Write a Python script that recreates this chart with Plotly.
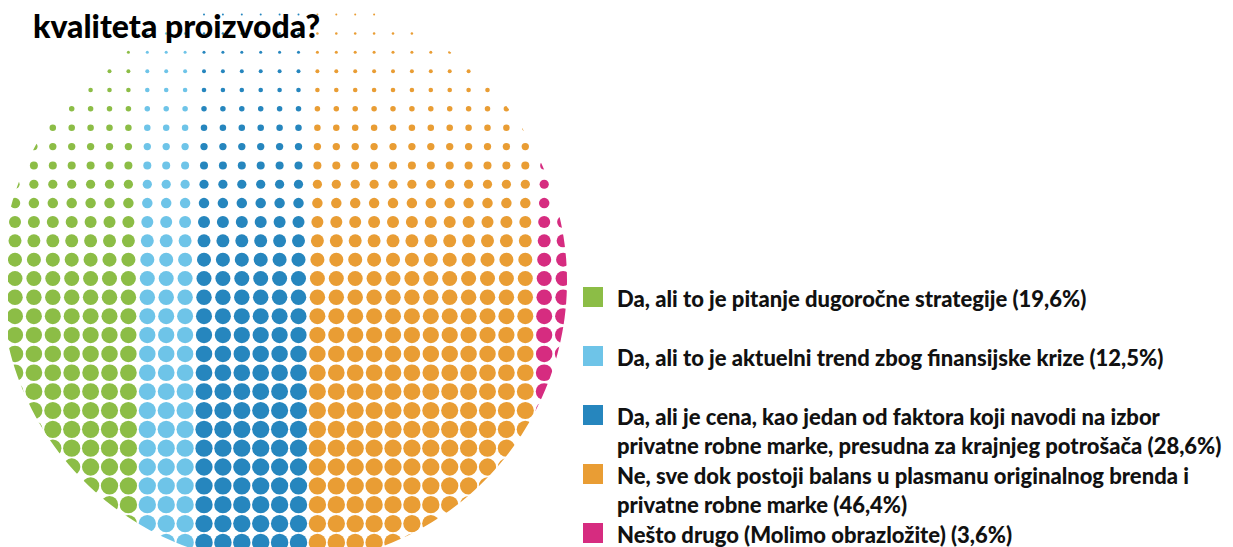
import numpy as np
import plotly.graph_objects as go

# ---------------- data ----------------
categories = [
    "Da, ali to je pitanje dugoročne strategije (19,6%)",
    "Da, ali to je aktuelni trend zbog finansijske krize (12,5%)",
    "Da, ali je cena, kao jedan od faktora koji navodi na izbor<br>privatne robne marke, presudna za krajnjeg potrošača (28,6%)",
    "Ne, sve dok postoji balans u plasmanu originalnog brenda i<br>privatne robne marke (46,4%)",
    "Nešto drugo (Molimo obrazložite) (3,6%)",
]
shares = [19.6, 12.5, 28.6, 46.4, 3.6]
colors = ["#8CBD46", "#6EC4E8", "#2686BE", "#E99D34", "#D62C80"]
title_text = ("Da li je rast udela robnih marki na domaćem tržištu pojačao ugled i garanciju<br>"
              "kvaliteta proizvoda?")

# ---------------- layout / style params (pixels) ----------------
PAGE_W, PAGE_H = 1233, 547
OFF = 8                                # page body margin of the html page
W, H = PAGE_W - OFF, PAGE_H - OFF
cx, cy, R = 284.0, 281.0, 283.0      # halftone disc
x0, y0, step_x, step_y = 15.0, 14.6, 18.9, 18.85
n_cols, n_rows = 30, 29
# dot diameter profile along the vertical (halftone fade toward the top)
prof_y = [14.6, 33, 52, 71, 90, 109, 127, 146, 165, 184, 203, 222, 241, 259, 278, 297, 315, 353, 420, 560]
prof_d = [2.0, 2.5, 3.0, 4.0, 4.6, 5.5, 6.5, 7.3, 8.0, 9.2, 10.5, 12.0, 13.0, 14.0, 15.0, 15.5, 16.0, 16.5, 17.2, 17.4]

# column -> category, by the share of the disc area left of each column
norm = np.array(shares) / np.sum(shares)
cum = np.cumsum(norm)

def area_left(x):
    t = np.clip((x - cx) / R, -1, 1)
    return 0.5 + (t * np.sqrt(1 - t * t) + np.arcsin(t)) / np.pi

fig = go.Figure()
pts = {i: ([], [], []) for i in range(len(shares))}
for k in range(n_cols):
    x = x0 + step_x * k
    cat = min(int(np.searchsorted(cum, area_left(x))), len(shares) - 1)
    for j in range(n_rows):
        y = y0 + step_y * j
        d = float(np.interp(y, prof_y, prof_d))
        if np.hypot(x - cx, y - cy) <= R + d / 2:
            pts[cat][0].append(x)
            pts[cat][1].append(y)
            pts[cat][2].append(d)

for i, name in enumerate(categories):
    xs, ys, ds = pts[i]
    fig.add_trace(go.Scatter(
        x=xs, y=ys, mode="markers", name=name, showlegend=False, hoverinfo="skip",
        marker=dict(size=ds, color=colors[i], opacity=1, line=dict(width=0)),
    ))

# white mask outside the disc so edge dots are clipped by the circle
ang = np.linspace(0, 2 * np.pi, 241)
circ = " ".join(("M" if n == 0 else "L") + f"{cx + R*np.cos(a):.2f},{cy + R*np.sin(a):.2f}" for n, a in enumerate(ang))
mask_path = "M-40,-40 L620,-40 L620,620 L-40,620 Z " + circ + " Z"
shapes = [dict(type="path", path=mask_path, xref="x", yref="y", fillcolor="white",
               line=dict(width=0), layer="above", fillrule="evenodd")]

# legend (squares + labels)
leg_x, leg_top, leg_gap, sq = 583, 287, 59, 20
annotations = []
for i, name in enumerate(categories):
    top = leg_top + leg_gap * i
    shapes.append(dict(type="rect", xref="x", yref="y", x0=leg_x, x1=leg_x + sq, y0=top, y1=top + sq,
                       fillcolor=colors[i], line=dict(width=0), layer="above"))
    annotations.append(dict(x=615, y=top - 4, xref="x", yref="y", xanchor="left", yanchor="top",
                            text=name, showarrow=False, align="left",
                            font=dict(family="Lato", size=22, color="#111111", weight=900)))

annotations.append(dict(x=31, y=47, xref="x", yref="y", xanchor="left", yanchor="bottom",
                        text=title_text, showarrow=False, align="left",
                        font=dict(family="Lato", size=32, color="#000000", weight=900)))

fig.update_layout(
    width=W, height=H, margin=dict(l=0, r=0, t=0, b=0),
    paper_bgcolor="white", plot_bgcolor="white",
    xaxis=dict(range=[OFF, PAGE_W], visible=False, fixedrange=True),
    yaxis=dict(range=[PAGE_H, OFF], visible=False, fixedrange=True),
    shapes=shapes, annotations=annotations, showlegend=False,
)
fig.write_html("out.html")
